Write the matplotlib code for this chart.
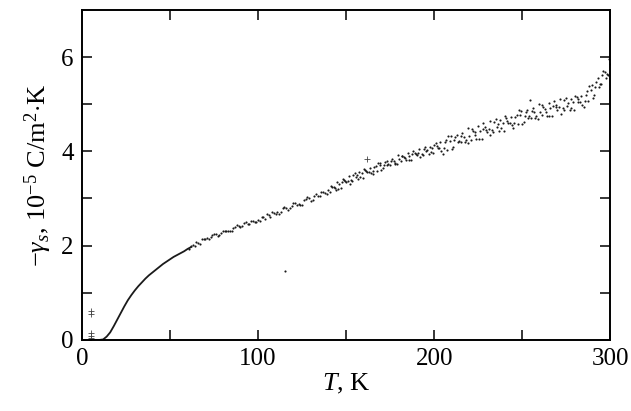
import matplotlib.pyplot as plt
from matplotlib.ticker import FixedLocator, NullFormatter

plt.rcParams.update({
    'font.family': 'Liberation Serif',
    'mathtext.fontset': 'custom',
    'mathtext.rm': 'Liberation Serif',
    'mathtext.it': 'Liberation Serif:italic',
    'font.size': 18,
})

# low-temperature part: dense data, looks like a solid curve
t_low = [6, 8, 10, 12, 14, 16, 18, 20, 22, 24, 26, 28, 30, 32, 34, 36, 38, 40,
         42, 44, 46, 48, 50, 52, 54, 56, 58, 60, 62]
g_low = [0.0, 0.0, 0.0, 0.01, 0.07, 0.16, 0.29, 0.43, 0.57, 0.71, 0.84, 0.95,
         1.05, 1.14, 1.22, 1.30, 1.37, 1.43, 1.49, 1.55, 1.61, 1.66, 1.71,
         1.76, 1.80, 1.84, 1.88, 1.93, 1.97]

# scattered points, three interleaved runs
t_a = [62, 64, 66, 68, 70, 72, 74, 76, 78, 80, 82, 84, 86, 88, 90, 92, 94, 96,
       98, 100, 102, 104, 106, 108, 110, 112, 114, 116, 118, 120, 122, 124,
       126, 128, 130, 132, 134, 136, 138, 140, 142, 144, 146, 148, 150, 152,
       154, 156, 158, 160, 162, 164, 166, 168, 170, 172, 174, 176, 178, 180,
       182, 184, 186, 188, 190, 192, 194, 196, 198, 200, 202, 204, 206, 208,
       210, 212, 214, 216, 218, 220, 222, 224, 226, 228, 230, 232, 234, 236,
       238, 240, 242, 244, 246, 248, 250, 252, 254, 256, 258, 260, 262, 264,
       266, 268, 270, 272, 274, 276, 278, 280, 282, 284, 286, 288, 290, 292,
       294, 296, 298, 300]
g_a = [1.99, 1.99, 2.06, 2.15, 2.14, 2.14, 2.22, 2.24, 2.23, 2.31, 2.31, 2.32,
       2.37, 2.43, 2.39, 2.47, 2.46, 2.53, 2.50, 2.55, 2.60, 2.57, 2.65, 2.72,
       2.68, 2.68, 2.80, 2.80, 2.79, 2.90, 2.87, 2.87, 2.96, 3.03, 2.95, 3.06,
       3.06, 3.14, 3.12, 3.17, 3.25, 3.18, 3.30, 3.42, 3.34, 3.31, 3.50, 3.49,
       3.46, 3.62, 3.56, 3.54, 3.66, 3.76, 3.61, 3.77, 3.73, 3.84, 3.76, 3.83,
       3.89, 3.81, 3.91, 4.01, 3.92, 3.88, 4.05, 4.03, 3.99, 4.14, 4.07, 4.01,
       4.19, 4.33, 4.05, 4.31, 4.22, 4.39, 4.23, 4.33, 4.43, 4.27, 4.43, 4.59,
       4.42, 4.35, 4.62, 4.58, 4.49, 4.74, 4.60, 4.55, 4.72, 4.87, 4.58, 4.83,
       4.74, 4.91, 4.75, 4.84, 4.93, 4.74, 4.91, 5.07, 4.88, 4.79, 5.08, 5.03,
       4.92, 5.17, 5.05, 4.99, 5.20, 5.39, 5.14, 5.47, 5.42, 5.71, 5.63, 5.85]

t_b = [61, 63, 65, 67, 69, 71, 73, 75, 77, 79, 81, 83, 85, 87, 89, 91, 93, 95,
       97, 99, 101, 103, 105, 107, 109, 111, 113, 115, 117, 119, 121, 123, 125,
       127, 129, 131, 133, 135, 137, 139, 141, 143, 145, 147, 149, 151, 153,
       155, 157, 159, 161, 163, 165, 167, 169, 171, 173, 175, 177, 179, 181,
       183, 185, 187, 189, 191, 193, 195, 197, 199, 201, 203, 205, 207, 209,
       211, 213, 215, 217, 219, 221, 223, 225, 227, 229, 231, 233, 235, 237,
       239, 241, 243, 245, 247, 249, 251, 253, 255, 257, 259, 261, 263, 265,
       267, 269, 271, 273, 275, 277, 279, 281, 283, 285, 287, 289, 291, 293,
       295, 297, 299]
g_b = [1.93, 2.01, 2.07, 2.04, 2.15, 2.16, 2.18, 2.25, 2.21, 2.26, 2.31, 2.31,
       2.31, 2.39, 2.41, 2.41, 2.49, 2.46, 2.52, 2.50, 2.53, 2.60, 2.67, 2.60,
       2.70, 2.71, 2.72, 2.82, 2.76, 2.84, 2.90, 2.88, 2.86, 2.98, 3.00, 2.97,
       3.09, 3.06, 3.13, 3.10, 3.14, 3.25, 3.35, 3.22, 3.39, 3.38, 3.39, 3.54,
       3.42, 3.53, 3.61, 3.56, 3.51, 3.69, 3.70, 3.64, 3.80, 3.72, 3.80, 3.73,
       3.79, 3.88, 3.97, 3.82, 3.97, 3.96, 3.95, 4.09, 3.95, 4.06, 4.17, 4.07,
       3.95, 4.24, 4.22, 4.10, 4.35, 4.19, 4.31, 4.17, 4.25, 4.40, 4.54, 4.27,
       4.52, 4.48, 4.46, 4.68, 4.44, 4.60, 4.71, 4.60, 4.49, 4.77, 4.76, 4.63,
       4.87, 4.71, 4.83, 4.69, 4.76, 4.90, 5.02, 4.74, 4.99, 4.94, 4.91, 5.14,
       4.87, 5.04, 5.16, 5.04, 4.94, 5.27, 5.29, 5.20, 5.55, 5.42, 5.68, 5.62]

t_c = [141.5, 143.5, 145.5, 147.5, 149.5, 151.5, 153.5, 155.5, 157.5, 159.5,
       161.5, 163.5, 165.5, 167.5, 169.5, 171.5, 173.5, 175.5, 177.5, 179.5,
       181.5, 183.5, 185.5, 187.5, 189.5, 191.5, 193.5, 195.5, 197.5, 199.5,
       201.5, 203.5, 205.5, 207.5, 209.5, 211.5, 213.5, 215.5, 217.5, 219.5,
       221.5, 223.5, 225.5, 227.5, 229.5, 231.5, 233.5, 235.5, 237.5, 239.5,
       241.5, 243.5, 245.5, 247.5, 249.5, 251.5, 253.5, 255.5, 257.5, 259.5,
       261.5, 263.5, 265.5, 267.5, 269.5, 271.5, 273.5, 275.5, 277.5, 279.5,
       281.5, 283.5, 285.5, 287.5, 289.5, 291.5, 293.5, 295.5, 297.5, 299.5]
g_c = [3.27, 3.22, 3.20, 3.35, 3.36, 3.48, 3.38, 3.45, 3.56, 3.44, 3.58, 3.64,
       3.58, 3.58, 3.76, 3.72, 3.71, 3.80, 3.73, 3.92, 3.91, 3.85, 3.81, 3.95,
       3.94, 4.05, 3.93, 4.00, 4.09, 3.96, 4.11, 4.19, 4.06, 4.03, 4.32, 4.23,
       4.19, 4.33, 4.19, 4.49, 4.47, 4.35, 4.26, 4.48, 4.46, 4.64, 4.42, 4.52,
       4.66, 4.44, 4.64, 4.73, 4.59, 4.57, 4.85, 4.75, 4.71, 4.85, 4.71, 5.00,
       4.98, 4.83, 4.75, 4.96, 4.93, 5.11, 4.88, 4.97, 5.12, 4.87, 5.10, 5.18,
       5.07, 5.06, 5.40, 5.36, 5.37, 5.61, 5.55, 5.96]

# stray points
t_odd = [254.5, 115.3]
g_odd = [5.09, 1.47]
t_plus = [5, 5, 5, 5, 5, 161.7]
g_plus = [0.55, 0.61, 0.04, 0.09, 0.15, 3.84]

fig = plt.figure(figsize=(6.31, 4.11), dpi=100)
ax = fig.add_axes([0.130, 0.173, 0.837, 0.803])

dot = dict(s=2.4, c='#1a1a1a', linewidths=0)
ax.plot(t_low, g_low, '-', color='#1a1a1a', lw=1.3)
ax.scatter(t_a, g_a, **dot)
ax.scatter(t_b, g_b, **dot)
ax.scatter(t_c, g_c, **dot)
ax.scatter(t_odd, g_odd, **dot)
ax.plot(t_plus, g_plus, '+', color='#444444', ms=5, mew=0.6)

ax.set_xlim(0, 300)
ax.set_ylim(0, 7)
ax.set_xticks([0, 100, 200, 300])
ax.set_yticks([0, 2, 4, 6])
ax.xaxis.set_minor_locator(FixedLocator([50, 150, 250]))
ax.yaxis.set_minor_locator(FixedLocator([1, 3, 5]))
ax.xaxis.set_minor_formatter(NullFormatter())
ax.yaxis.set_minor_formatter(NullFormatter())
ax.tick_params(which='both', direction='in', top=True, right=True,
               length=7, width=1.1, labelsize=18, pad=6)

for sp in ax.spines.values():
    sp.set_linewidth(1.4)

ax.set_xlabel(r'$T$, K', fontsize=19, labelpad=1)
ax.set_ylabel(r'$-\gamma_s$, 10$^{-5}$ C/m$^2$$\cdot$K', fontsize=19, labelpad=5)

fig.savefig('out.png', dpi=100)
